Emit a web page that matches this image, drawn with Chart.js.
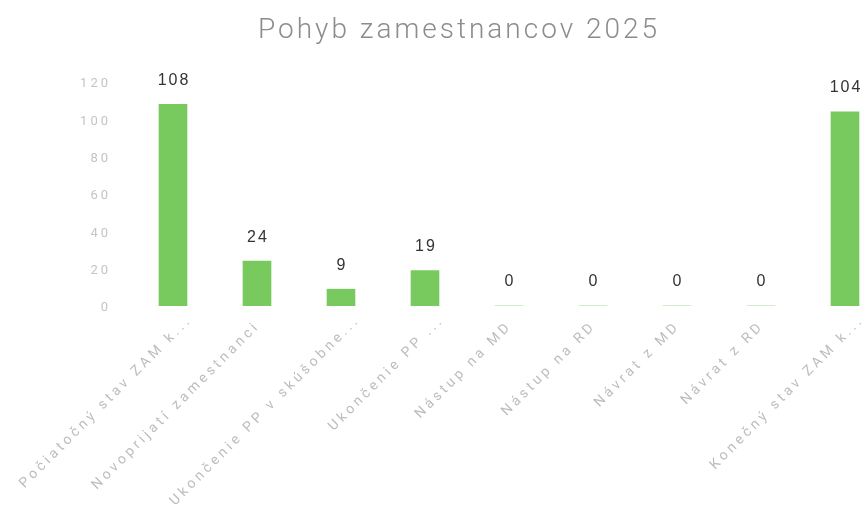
<!DOCTYPE html>
<html>
<head>
<meta charset="utf-8">
<script src="https://cdn.jsdelivr.net/npm/chart.js@4.4.1/dist/chart.umd.min.js"></script>
<style>
  html, body { margin: 0; padding: 0; background: #fff; }
  #wrap { width: 864px; height: 508px; overflow: hidden; position: relative; }
  #box { width: 916px; height: 508px; position: absolute; left: 0; top: 0; }
</style>
</head>
<body>
<div id="wrap"><div id="box"><canvas id="graf"></canvas></div></div>
<script>
// kategorie a hodnoty
const nadpis = 'Pohyb zamestnancov 2025'
const kategorie = [
  'Počiatočný stav ZAM k...',
  'Novoprijatí zamestnanci',
  'Ukončenie PP v skúšobne...',
  'Ukončenie PP ...',
  'Nástup na MD',
  'Nástup na RD',
  'Návrat z MD',
  'Návrat z RD',
  'Konečný stav ZAM k...'
]
const pocty = [108, 24, 9, 19, 0, 0, 0, 0, 104]
const osY = [0, 20, 40, 60, 80, 100, 120]

// rozostup pismen pre popisky osi (Chart.js to nema ako volbu)
// skratene popisky (s ...) su v originale posunute viac doprava
function rozostup(scale, px, posunX) {
  if (scale._rozostup) return
  const povodne = scale.drawLabels
  scale.drawLabels = function (area) {
    const c = this.ctx
    if (posunX) {
      const items = this.getLabelItems(area)
      if (!items._posunute) {
        items.forEach((it) => {
          const t = it.options.translation
          if (!String(it.label).endsWith('...')) {
            t[0] -= 16
            t[1] += 6
          }
        })
        items._posunute = true
      }
    }
    const pred = c.letterSpacing
    c.letterSpacing = px
    povodne.call(this, area)
    c.letterSpacing = pred
  }
  scale._rozostup = true
}

// nadpis a hodnoty nad stlpcami
const popisky = {
  id: 'popisky',
  afterDatasetsDraw(chart) {
    const ctx = chart.ctx
    const meta = chart.getDatasetMeta(0)
    ctx.save()
    ctx.textAlign = 'center'
    ctx.textBaseline = 'middle'

    ctx.fillStyle = '#8c8c8c'
    ctx.font = '300 28px Roboto'
    ctx.letterSpacing = '3px'
    ctx.fillText(nadpis, 459, 31)

    ctx.fillStyle = '#333'
    ctx.font = '16px "Liberation Sans", Arial, sans-serif'
    ctx.letterSpacing = '2px'
    meta.data.forEach((bar, i) => {
      ctx.fillText(String(pocty[i]), bar.x + 1, bar.y - 24)
    })
    ctx.restore()
  }
}

new Chart(document.getElementById('graf'), {
  type: 'bar',
  data: {
    labels: kategorie,
    datasets: [{
      data: pocty,
      backgroundColor: '#78ca5e',
      barThickness: 28
    }]
  },
  options: {
    responsive: true,
    maintainAspectRatio: false,
    animation: false,
    layout: { padding: { left: 0, right: 29, top: 82, bottom: 0 } },
    scales: {
      y: {
        min: 0,
        max: 120,
        afterBuildTicks: (scale) => { scale.ticks = osY.map(v => ({ value: v })) },
        afterFit: (scale) => { scale.width = 131; rozostup(scale, '3px', false) },
        grid: { display: false, drawTicks: false },
        border: { display: false },
        ticks: {
          color: '#c4c4c4',
          padding: 20,
          labelOffset: 2,
          font: { family: 'Roboto', size: 13 }
        }
      },
      x: {
        afterFit: (scale) => { scale.height = 202; rozostup(scale, '3.5px', true) },
        grid: { display: false, drawTicks: false },
        border: { display: false },
        ticks: {
          autoSkip: false,
          minRotation: 45,
          maxRotation: 45,
          padding: 6,
          labelOffset: 17,
          color: '#bdbdbd',
          font: { family: 'Roboto', size: 14 }
        }
      }
    },
    plugins: {
      legend: { display: false },
      tooltip: { enabled: false },
      title: { display: false }
    }
  },
  plugins: [popisky]
})
</script>
</body>
</html>
